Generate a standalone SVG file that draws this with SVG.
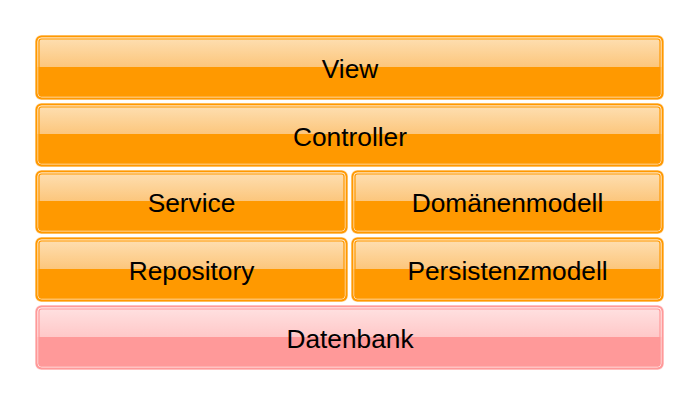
<svg xmlns="http://www.w3.org/2000/svg" width="700" height="405" viewBox="0 0 700 405">
<defs>
<linearGradient id="gO" x1="0" y1="0" x2="0" y2="1">
<stop offset="0" stop-color="#fee0b4"/>
<stop offset="0.49" stop-color="#fcc67c"/>
<stop offset="0.49" stop-color="#ff9900"/>
<stop offset="1" stop-color="#ff9900"/>
</linearGradient>
<linearGradient id="gP" x1="0" y1="0" x2="0" y2="1">
<stop offset="0" stop-color="#ffe2e2"/>
<stop offset="0.49" stop-color="#ffc8c8"/>
<stop offset="0.49" stop-color="#ff9999"/>
<stop offset="1" stop-color="#ff9999"/>
</linearGradient>
</defs>
<style>
.halo{fill:#ffe0b8;}
.body{fill:url(#gO);stroke:#ff9900;stroke-width:2;}
.hl{fill:none;stroke:#ffe6c8;stroke-width:1;}
.in{fill:none;stroke:#ff9900;stroke-width:1.2;}
.haloP{fill:#ffe4e4;}
.bodyP{fill:url(#gP);stroke:#ff9999;stroke-width:2;}
.hlP{fill:none;stroke:#ffecec;stroke-width:1;}
.inP{fill:none;stroke:#ff9999;stroke-width:1.2;}
text{font-family:"Liberation Sans",Arial,sans-serif;font-size:26.3px;fill:#000;text-anchor:middle;}
</style>
<rect width="700" height="405" fill="#ffffff"/>
<g id="connectors"/>
<g id="view">
<rect class="halo" x="35" y="35" width="629" height="65" rx="6"/>
<rect class="body" x="36.5" y="36.5" width="626" height="62" rx="5"/>
<rect class="hl" x="38" y="38" width="623" height="59" rx="3.5"/>
<rect class="in" x="39" y="39" width="621" height="57" rx="2.5"/>
<text x="350" y="78">View</text>
</g>
<g id="controller">
<rect class="halo" x="35" y="103" width="629" height="64" rx="6"/>
<rect class="body" x="36.5" y="104.5" width="626" height="61" rx="5"/>
<rect class="hl" x="38" y="106" width="623" height="58" rx="3.5"/>
<rect class="in" x="39" y="107" width="621" height="56" rx="2.5"/>
<text x="350" y="145.5">Controller</text>
</g>
<g id="service">
<rect class="halo" x="35" y="170" width="313" height="64" rx="6"/>
<rect class="body" x="36.5" y="171.5" width="310" height="61" rx="5"/>
<rect class="hl" x="38" y="173" width="307" height="58" rx="3.5"/>
<rect class="in" x="39" y="174" width="305" height="56" rx="2.5"/>
<text x="191.5" y="212">Service</text>
</g>
<g id="domaenenmodell">
<rect class="halo" x="351" y="170" width="313" height="64" rx="6"/>
<rect class="body" x="352.5" y="171.5" width="310" height="61" rx="5"/>
<rect class="hl" x="354" y="173" width="307" height="58" rx="3.5"/>
<rect class="in" x="355" y="174" width="305" height="56" rx="2.5"/>
<text x="507.5" y="212">Domänenmodell</text>
</g>
<g id="repository">
<rect class="halo" x="35" y="237" width="313" height="65" rx="6"/>
<rect class="body" x="36.5" y="238.5" width="310" height="62" rx="5"/>
<rect class="hl" x="38" y="240" width="307" height="59" rx="3.5"/>
<rect class="in" x="39" y="241" width="305" height="57" rx="2.5"/>
<text x="191.5" y="280">Repository</text>
</g>
<g id="persistenzmodell">
<rect class="halo" x="351" y="237" width="313" height="65" rx="6"/>
<rect class="body" x="352.5" y="238.5" width="310" height="62" rx="5"/>
<rect class="hl" x="354" y="240" width="307" height="59" rx="3.5"/>
<rect class="in" x="355" y="241" width="305" height="57" rx="2.5"/>
<text x="507.5" y="280">Persistenzmodell</text>
</g>
<g id="datenbank">
<rect class="haloP" x="35" y="305" width="629" height="65" rx="6"/>
<rect class="bodyP" x="36.5" y="306.5" width="626" height="62" rx="5"/>
<rect class="hlP" x="38" y="308" width="623" height="59" rx="3.5"/>
<rect class="inP" x="39" y="309" width="621" height="57" rx="2.5"/>
<text x="350" y="347.5">Datenbank</text>
</g>
</svg>
